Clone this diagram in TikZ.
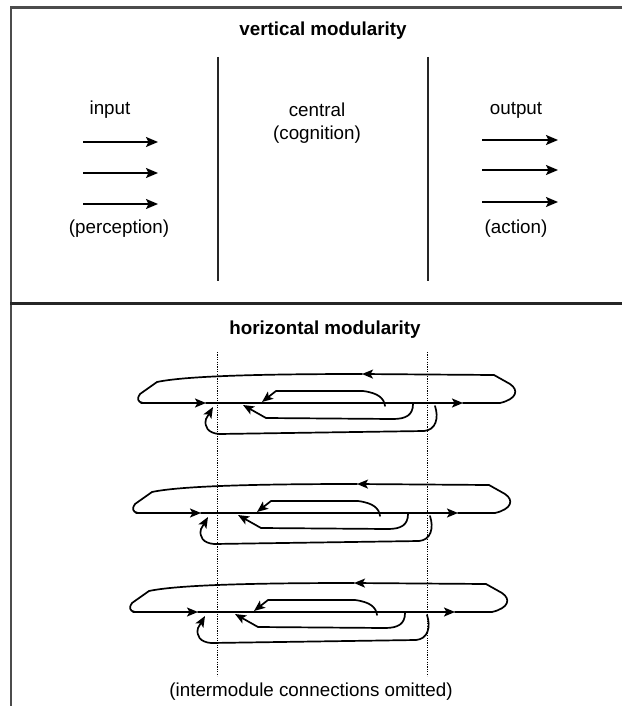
\documentclass[tikz,border=0pt]{standalone}
\usepackage{fontspec}
\setmainfont{Liberation Sans}
\usetikzlibrary{arrows.meta}
\begin{document}
\begin{tikzpicture}[x=1pt,y=-1pt,
  lbl/.style={font=\fontsize{18.8}{22}\selectfont, inner sep=0pt, anchor=center},
  ttl/.style={font=\fontsize{18.8}{22}\selectfont\bfseries, inner sep=0pt, anchor=center},
  frame/.style={line width=2.5pt, draw=black!70},
  sepline/.style={line width=2pt, draw=black!85},
  arr/.style={line width=1.8pt, -{Stealth[length=12pt,width=10pt,inset=2.5pt]}},
  crv/.style={line width=1.7pt, line join=round, line cap=round},
  tipped/.style={-{Stealth[length=11pt,width=9pt,inset=2.5pt]}},
  dots/.style={line width=1pt, dash pattern=on 1.2pt off 1.2pt},
  module/.pic={
    % main line with two forward arrows
    \draw[crv,tipped] (141,0) -- (206,0);
    \draw[crv,tipped] (206,0) -- (463,0);
    % right end turning back to the top line
    \draw[crv,tipped] (463,0) -- (500,0) .. controls (517,-4) and (519,-13) .. (510,-19) -- (494,-28) -- (362,-29);
    % top line back to the left end
    \draw[crv] (362,-29) .. controls (260,-29) and (185,-27) .. (157,-21) -- (140,-9) .. controls (137,-5) and (137,-1) .. (143,0) -- (146,0);
    % upper inner loop
    \draw[crv,tipped] (385,3) .. controls (384,-5) and (378,-10) .. (363,-12) -- (276,-12) -- (262,-1);
    % lower inner loop
    \draw[crv,tipped] (413,1) .. controls (413,12) and (406,16) .. (393,16) -- (266,15) -- (243,2);
    % lower outer loop
    \draw[crv,tipped] (435,3) .. controls (439,15) and (436,27) .. (424,28) -- (219,31) .. controls (208,30) and (204,24) .. (206,16) -- (213,4);
  }
]
\useasboundingbox (0,0) rectangle (622,706);
\fill[white] (0,0) rectangle (622,706);

% frame
\draw[frame] (622,7.5) -- (11,7.5) -- (11,706);
\draw[sepline, line width=2.5pt] (10,303.5) -- (622,303.5);

% ---------- vertical modularity ----------
\node[ttl] (vtitle) at (323,31) {vertical modularity};
\draw[sepline] (218,57) -- (218,281);
\draw[sepline] (428,57) -- (428,281);

\node[lbl] (input) at (110,110) {input};
\node[lbl] (perc) at (119,229) {(perception)};
\node[lbl] (central) at (317,110) {central};
\node[lbl] (cogn) at (317,135) {(cognition)};
\node[lbl] (output) at (516,110) {output};
\node[lbl] (action) at (516,229) {(action)};

\coordinate (ia1) at (83,142);  \coordinate (ib1) at (158,142);
\coordinate (ia2) at (83,173);  \coordinate (ib2) at (158,173);
\coordinate (ia3) at (83,204);  \coordinate (ib3) at (158,204);
\coordinate (oa1) at (482,140); \coordinate (ob1) at (558,140);
\coordinate (oa2) at (482,170); \coordinate (ob2) at (558,170);
\coordinate (oa3) at (482,202); \coordinate (ob3) at (558,202);
\foreach \k in {1,2,3} {
  \draw[arr] (ia\k) -- (ib\k);
  \draw[arr] (oa\k) -- (ob\k);
}

% ---------- horizontal modularity ----------
\node[ttl] (htitle) at (325,330) {horizontal modularity};
\draw[dots] (217.5,352) -- (217.5,676);
\draw[dots] (427.5,352) -- (427.5,676);

\pic at (0,403) {module};
\pic at (-5,513) {module};
\pic at (-8,612) {module};

\node[lbl] (note) at (311,692) {(intermodule connections omitted)};
\end{tikzpicture}
\end{document}
